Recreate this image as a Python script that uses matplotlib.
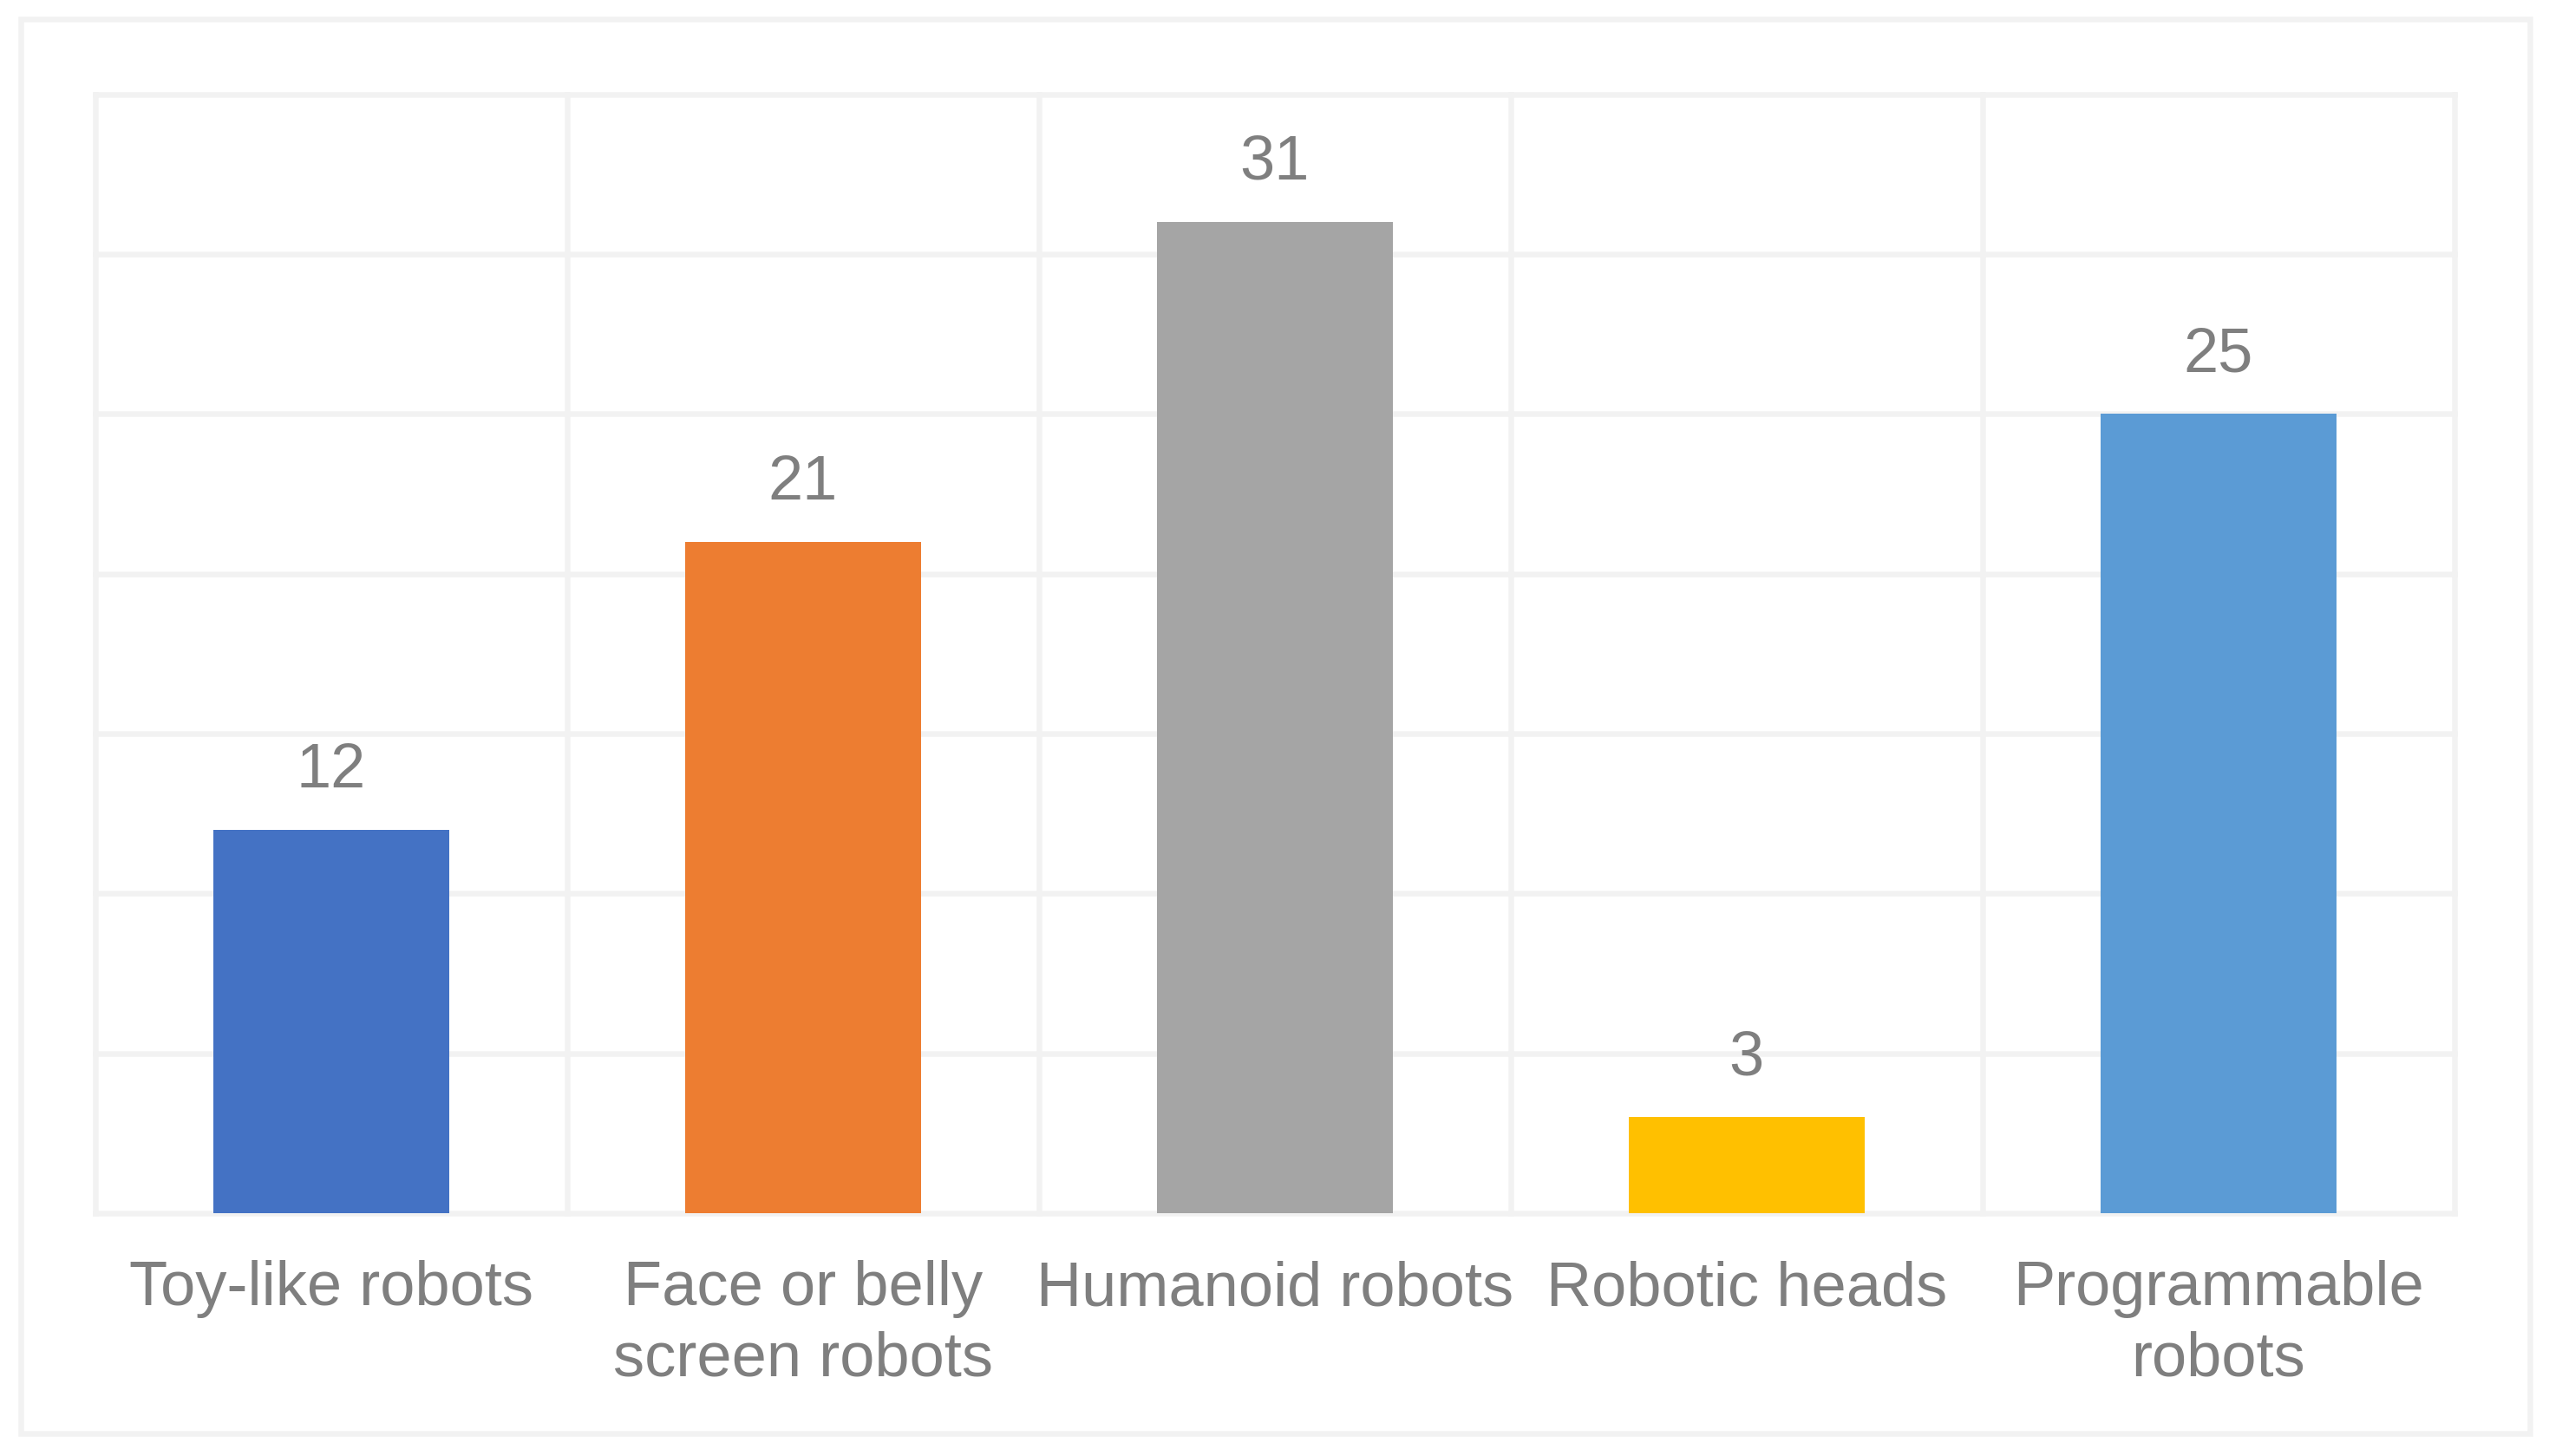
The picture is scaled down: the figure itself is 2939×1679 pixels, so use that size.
import matplotlib
matplotlib.use("Agg")
import matplotlib.pyplot as plt
from matplotlib.patches import Rectangle

categories = ["Toy-like robots", "Face or belly\nscreen robots", "Humanoid robots",
              "Robotic heads", "Programmable\nrobots"]
values = [12, 21, 31, 3, 25]
colors = ["#4472C4", "#ED7D31", "#A5A5A5", "#FFC000", "#5B9BD5"]
y_ticks = [0, 5, 10, 15, 20, 25, 30, 35]

plt.rcParams['font.family'] = ['Liberation Sans', 'DejaVu Sans']

W, H = 2939, 1679
dpi = 100
fig = plt.figure(figsize=(W / dpi, H / dpi), dpi=dpi)

grid_c = "#F2F2F2"
text_c = "#7F7F7F"
lw = 6.5 * 72 / dpi

# outer border
fig.patches.append(Rectangle((23.5 / W, 1 - 1653 / H), (2917 - 23.5) / W, (1653 - 22) / H,
                             transform=fig.transFigure, fill=False, edgecolor=grid_c,
                             linewidth=lw, zorder=0))

left, right, top, bottom = 109.5, 2830, 108.5, 1399
ax = fig.add_axes([left / W, 1 - bottom / H, (right - left) / W, (bottom - top) / H])
ax.set_xlim(-0.5, len(categories) - 0.5)
ax.set_ylim(0, 35)
for s in ax.spines.values():
    s.set_visible(False)

for y in y_ticks:
    ax.axhline(y, color=grid_c, linewidth=lw, zorder=0, clip_on=False)
for i in range(len(categories) + 1):
    ax.axvline(i - 0.5, color=grid_c, linewidth=lw, zorder=0, clip_on=False)

x = list(range(len(categories)))
ax.bar(x, values, width=0.5, color=colors, zorder=2)

for xi, v in zip(x, values):
    ax.annotate(str(v), (xi, v), xytext=(0, 49 * 72 / dpi), textcoords="offset points",
                ha="center", va="baseline", fontsize=52, color=text_c)

ax.set_xticks(x)
ax.set_xticklabels(categories, fontsize=52, color=text_c, linespacing=1.28)
ax.tick_params(axis="x", length=0, pad=39)
ax.set_yticks([])

fig.savefig("out.png", dpi=dpi, facecolor="white")
